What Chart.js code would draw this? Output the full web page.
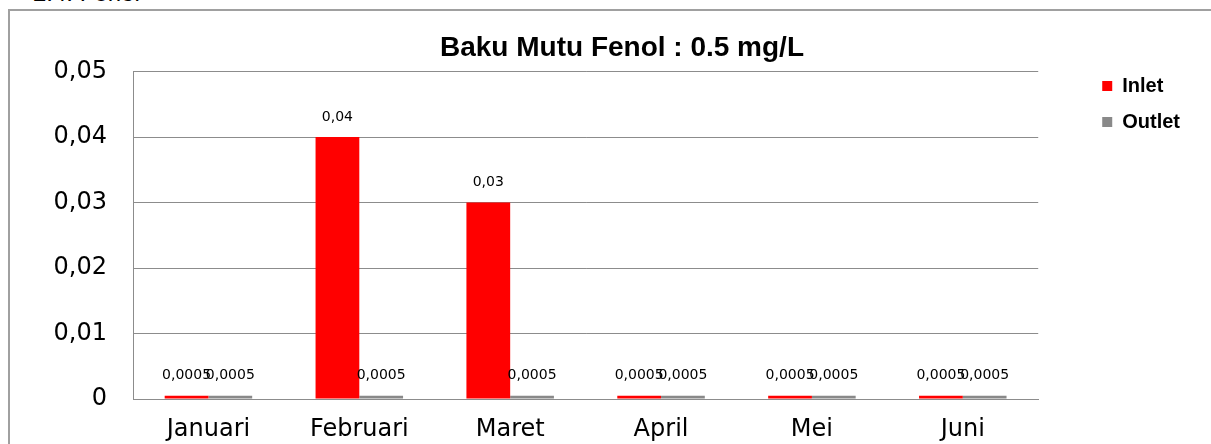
<!DOCTYPE html>
<html>
<head>
    <title>Baku Mutu Fenol</title>
    <script src="https://cdn.jsdelivr.net/npm/chart.js"></script>
    <style>
        body { margin: 0; background: #fff; overflow: hidden; }
        .heading {
            position: absolute; left: 33px; top: -19px;
            font: 24px "Liberation Sans", Arial, sans-serif; line-height: 24px; color: #000;
        }
        .frame {
            position: absolute; left: 8px; top: 9px; width: 1300px; height: 500px;
            border: 2px solid #a0a0a0;
        }
        .wrap { position: absolute; left: 0; top: 0; width: 1211px; height: 444px; }
    </style>
</head>
<body>
    <div class="heading">2.4. Fenol</div>
    <div class="frame"></div>
    <div class="wrap"><canvas id="fenolChart"></canvas></div>
    <script>
        const months = ['Januari', 'Februari', 'Maret', 'April', 'Mei', 'Juni'];
        const inlet = [0.0005, 0.04, 0.03, 0.0005, 0.0005, 0.0005];
        const outlet = [0.0005, 0.0005, 0.0005, 0.0005, 0.0005, 0.0005];

        const comma = v => String(v).replace('.', ',');

        // value labels above each bar
        const barLabels = {
            id: 'barLabels',
            afterDatasetsDraw(chart) {
                const ctx = chart.ctx;
                ctx.save();
                ctx.font = '14px "DejaVu Sans", sans-serif';
                ctx.fillStyle = '#000';
                ctx.textAlign = 'center';
                ctx.textBaseline = 'middle';
                chart.data.datasets.forEach((ds, i) => {
                    chart.getDatasetMeta(i).data.forEach((bar, j) => {
                        ctx.fillText(comma(ds.data[j]), bar.x, bar.y - 20);
                    });
                });
                ctx.restore();
            }
        };

        new Chart(document.getElementById('fenolChart'), {
            type: 'bar',
            data: {
                labels: months,
                datasets: [
                    { label: 'Inlet', data: inlet, backgroundColor: '#ff0000' },
                    { label: 'Outlet', data: outlet, backgroundColor: '#898989' }
                ]
            },
            options: {
                responsive: true,
                maintainAspectRatio: false,
                animation: false,
                datasets: { bar: { categoryPercentage: 0.58, barPercentage: 1 } },
                layout: { padding: { top: 0, left: 54, right: 21, bottom: 0 } },
                plugins: {
                    title: {
                        display: true,
                        text: 'Baku Mutu Fenol : 0.5 mg/L',
                        color: '#000',
                        font: { family: '"Liberation Sans", Arial, sans-serif', size: 28, weight: 'bold' },
                        padding: { top: 31, bottom: 7 }
                    },
                    legend: {
                        position: 'right',
                        align: 'start',
                        title: { display: true, text: ' ', font: { size: 10 }, padding: { top: 0, bottom: 48 } },
                        labels: {
                            color: '#000',
                            boxWidth: 10,
                            boxHeight: 10,
                            padding: 16,
                            font: { family: '"Liberation Sans", Arial, sans-serif', size: 20, weight: 'bold' }
                        }
                    },
                    tooltip: { enabled: false }
                },
                scales: {
                    x: {
                        grid: { display: false, drawTicks: false },
                        border: { display: true, color: '#8c8c8c' },
                        ticks: {
                            color: '#000',
                            padding: 16,
                            font: { family: '"DejaVu Sans", sans-serif', size: 24 }
                        },
                        afterFit: s => { s.height = 45; }
                    },
                    y: {
                        min: 0,
                        max: 0.05,
                        grid: { color: '#8c8c8c', drawTicks: false },
                        border: { display: true, color: '#8c8c8c' },
                        ticks: {
                            stepSize: 0.01,
                            color: '#000',
                            padding: 26,
                            font: { family: '"DejaVu Sans", sans-serif', size: 24 },
                            callback: v => comma(Math.round(v * 100) / 100)
                        },
                        afterFit: s => { s.width = 79; }
                    },
                    yGap: {
                        type: 'linear',
                        position: 'right',
                        grid: { display: false },
                        border: { display: false },
                        ticks: { display: false },
                        afterFit: s => { s.width = 48; }
                    }
                }
            },
            plugins: [barLabels]
        });
    </script>
</body>
</html>
